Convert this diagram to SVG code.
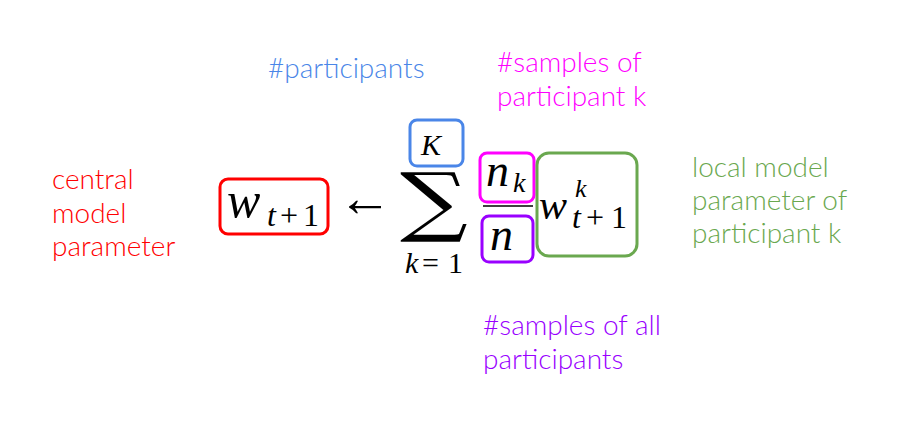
<svg xmlns="http://www.w3.org/2000/svg" width="910" height="435" viewBox="0 0 910 435">
<style>
.lbl{font-family:Lato,"Liberation Sans",sans-serif;font-weight:300;font-size:28px}
.m{font-family:"Liberation Serif","DejaVu Serif",serif;fill:#000}
.i{font-style:italic}
.box{fill:none;stroke-width:3}
</style>
<rect width="910" height="435" fill="#fff"/>
<g id="label-participants"><text class="lbl" x="268" y="78" fill="#4a86e8">#participants</text></g>
<g id="label-central"><text class="lbl" fill="#ff0000"><tspan x="52" y="189">central</tspan><tspan x="52" y="223">model</tspan><tspan x="52" y="256">parameter</tspan></text></g>
<g id="label-samples-k"><text class="lbl" fill="#ff00ff"><tspan x="497" y="72">#samples of</tspan><tspan x="497" y="106">participant k</tspan></text></g>
<g id="label-local"><text class="lbl" fill="#6aa84f"><tspan x="692" y="177">local model</tspan><tspan x="692" y="210">parameter of</tspan><tspan x="692" y="243">participant k</tspan></text></g>
<g id="label-samples-all"><text class="lbl" fill="#9900ff"><tspan x="483" y="335">#samples of all</tspan><tspan x="483" y="369">participants</tspan></text></g>
<g id="central-param">
<rect class="box" x="220" y="179" width="108" height="55" rx="8" stroke="#ff0000"/>
<text class="m i" x="227" y="217" font-size="50">w</text>
<text class="m" font-size="32" y="226"><tspan class="i" x="267">t</tspan><tspan x="280">+</tspan><tspan x="303">1</tspan></text>
</g>
<g id="arrow"><text class="m" x="338" y="216" font-size="54">←</text></g>
<g id="sum">
<text transform="translate(400,0) scale(1.25,1)" x="0" y="227" font-family="DejaVu Serif,serif" font-size="76">∑</text>
<text class="m" font-size="30" y="273"><tspan class="i" x="405">k</tspan><tspan x="422">=</tspan><tspan x="448">1</tspan></text>
</g>
<g id="K-box">
<rect class="box" x="410" y="120" width="53" height="46" rx="7" stroke="#4a86e8"/>
<text class="m i" x="421" y="155" font-size="30">K</text>
</g>
<g id="nk-box">
<rect class="box" x="480" y="153" width="54" height="49" rx="7" stroke="#ff00ff"/>
<text class="m i" x="486" y="186" font-size="46">n</text>
<text class="m i" x="513" y="192" font-size="28">k</text>
</g>
<line x1="483" y1="206" x2="533" y2="206" stroke="#000" stroke-width="1.5"/>
<g id="n-box">
<rect class="box" x="482" y="216" width="51" height="46" rx="7" stroke="#9900ff"/>
<text class="m i" x="490" y="250" font-size="46">n</text>
</g>
<g id="local-param">
<rect class="box" x="537" y="153" width="100" height="103" rx="12" stroke="#6aa84f"/>
<text class="m i" x="539" y="219" font-size="42">w</text>
<text class="m i" x="575" y="197" font-size="26">k</text>
<text class="m" font-size="32" y="228"><tspan class="i" x="572">t</tspan><tspan x="586">+</tspan><tspan x="611">1</tspan></text>
</g>
</svg>
